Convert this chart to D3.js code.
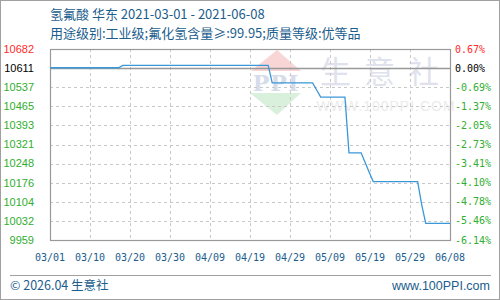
<!DOCTYPE html>
<html>
<head>
<meta charset="utf-8">
<script src="https://cdn.jsdelivr.net/npm/d3@7"></script>
<style>
  body { margin: 0; background: #fff; }
  svg { display: block; }
</style>
</head>
<body>
<svg id="chart" width="500" height="300"></svg>
<script>
// price series (yuan/ton)
var dates = ['2021-03-01', '2021-03-18', '2021-03-19', '2021-04-24', '2021-04-25',
             '2021-05-05', '2021-05-06', '2021-05-07', '2021-05-13', '2021-05-14',
             '2021-05-17', '2021-05-18', '2021-05-19', '2021-05-20', '2021-05-31',
             '2021-06-01', '2021-06-02', '2021-06-08'];
var prices = [10611, 10611, 10620, 10620, 10554,
              10554, 10527, 10500, 10500, 10289,
              10289, 10252, 10215, 10180, 10180,
              10092, 10022, 10022];
var baseValue = 10611;
var leftTicks = [10682, 10611, 10537, 10465, 10393, 10321, 10248, 10176, 10104, 10032, 9959];
var rightTicks = ['0.67%', '0.00%', '-0.69%', '-1.37%', '-2.05%', '-2.73%', '-3.41%', '-4.10%', '-4.78%', '-5.46%', '-6.14%'];
var xLabels = ['03/01', '03/10', '03/20', '03/30', '04/09', '04/19', '04/29', '05/09', '05/19', '05/29', '06/08'];

var titleText = '氢氟酸 华东 2021-03-01 - 2021-06-08';
var subText = '用途级别:工业级;氟化氢含量≥:99.95;质量等级:优等品';

var margin = { top: 49, left: 50, right: 50, bottom: 60 },
    width = 500 - margin.left - margin.right,
    height = 300 - margin.top - margin.bottom;

var blue = '#1b5d8d';
var parse = d3.timeParse('%Y-%m-%d');
var data = dates.map(function(d, i) { return { date: parse(d), value: prices[i] }; });

var svg = d3.select('#chart');

// outer frame
svg.append('rect')
  .attr('x', 0.5).attr('y', 0.5)
  .attr('width', 499).attr('height', 299)
  .attr('fill', 'none').attr('stroke', '#a0a0a0');

var x = d3.scaleTime()
  .domain([parse(dates[0]), parse(dates[dates.length - 1])])
  .range([0, width]);

var xPos = d3.scalePoint()
  .domain(xLabels)
  .range([0, width]);

var y = d3.scaleLinear()
  .domain([leftTicks[leftTicks.length - 1], leftTicks[0]])
  .range([height, 0]);

var yIdx = d3.scalePoint()
  .domain(d3.range(leftTicks.length))
  .range([0, height]);

// watermark
var wm = svg.append('g');
wm.append('path')
  .attr('d', 'M251,71 L277,50 L301,71 Z')
  .attr('fill', '#f9d6d6');
wm.append('path')
  .attr('d', 'M250,93 L301,93 L277,115 Z')
  .attr('fill', '#d9f0dc');
wm.append('text')
  .attr('x', 276).attr('y', 91)
  .attr('text-anchor', 'middle')
  .attr('font-family', 'DejaVu Serif, serif')
  .attr('font-size', 22).attr('font-weight', 'bold')
  .attr('letter-spacing', 1)
  .attr('fill', '#d6dcea')
  .text('PPI');
wm.append('text')
  .attr('x', 386).attr('y', 83)
  .attr('text-anchor', 'middle')
  .attr('font-family', 'Noto Sans CJK SC')
  .attr('font-size', 31)
  .attr('letter-spacing', 13)
  .attr('fill', '#dfe2ec')
  .text('生意社');
wm.append('text')
  .attr('x', 386).attr('y', 111)
  .attr('text-anchor', 'middle')
  .attr('font-family', 'Liberation Sans, Arial')
  .attr('font-size', 14)
  .attr('letter-spacing', 1)
  .attr('fill', '#ebebeb')
  .text('WWW.100PPI.COM');

var g = svg.append('g')
  .attr('transform', 'translate(' + margin.left + ',' + margin.top + ')');

// grid
g.selectAll('.hgrid')
  .data(leftTicks.slice(2, leftTicks.length - 1))
  .enter().append('line')
  .attr('x1', 0).attr('x2', width)
  .attr('y1', function(d, i) { return Math.round(yIdx(i + 2)) + 0.5; })
  .attr('y2', function(d, i) { return Math.round(yIdx(i + 2)) + 0.5; })
  .attr('stroke', '#c8c8c8')
  .attr('stroke-dasharray', '3,3');

g.selectAll('.vgrid')
  .data(xLabels.slice(1, xLabels.length - 1))
  .enter().append('line')
  .attr('x1', function(d) { return Math.round(xPos(d)) + 0.5; })
  .attr('x2', function(d) { return Math.round(xPos(d)) + 0.5; })
  .attr('y1', 0).attr('y2', height)
  .attr('stroke', '#c8c8c8')
  .attr('stroke-dasharray', '3,3');

// base line (0.00%)
g.append('line')
  .attr('x1', 0).attr('x2', width)
  .attr('y1', Math.round(yIdx(1)) + 0.5).attr('y2', Math.round(yIdx(1)) + 0.5)
  .attr('stroke', '#999').attr('stroke-width', 1.5);

// plot frame
g.append('rect')
  .attr('x', 0.5).attr('y', 0.5)
  .attr('width', width).attr('height', height)
  .attr('fill', 'none').attr('stroke', '#999').attr('stroke-width', 1.2);

// price line
var line = d3.line()
  .x(function(d) { return x(d.date); })
  .y(function(d) { return y(d.value); });

g.append('path')
  .datum(data)
  .attr('d', line)
  .attr('fill', 'none')
  .attr('stroke', '#3a97d8')
  .attr('stroke-width', 1.3);

// left axis labels
g.selectAll('.ly')
  .data(leftTicks)
  .enter().append('text')
  .attr('x', -16)
  .attr('y', function(d, i) { return yIdx(i); })
  .attr('dy', '0.35em')
  .attr('text-anchor', 'end')
  .attr('font-family', 'Liberation Sans, Arial, sans-serif')
  .attr('font-size', 11)
  .attr('fill', function(d, i) { return i === 0 ? '#ff2a2a' : (d === baseValue ? '#000' : '#2fae2f'); })
  .text(function(d) { return d; });

// right axis labels
g.selectAll('.ry')
  .data(rightTicks)
  .enter().append('text')
  .attr('x', width + 5)
  .attr('y', function(d, i) { return yIdx(i); })
  .attr('dy', '0.35em')
  .attr('font-family', 'DejaVu Sans Mono, monospace')
  .attr('font-size', 10)
  .attr('fill', function(d, i) { return i === 0 ? '#ff2a2a' : (i === 1 ? '#000' : '#2fae2f'); })
  .text(function(d) { return d; });

// x labels
g.selectAll('.xl')
  .data(xLabels)
  .enter().append('text')
  .attr('x', function(d) { return xPos(d); })
  .attr('y', height + 21)
  .attr('text-anchor', 'middle')
  .attr('font-family', 'DejaVu Sans Mono, monospace')
  .attr('font-size', 10)
  .attr('fill', blue)
  .text(function(d) { return d; });

// titles
svg.append('text')
  .attr('x', 50).attr('y', 19)
  .attr('font-family', 'Noto Sans CJK SC, sans-serif')
  .attr('font-size', 13)
  .attr('fill', blue)
  .text(titleText);

svg.append('text')
  .attr('x', 50).attr('y', 38)
  .attr('font-family', 'Noto Sans CJK SC, sans-serif')
  .attr('font-size', 13)
  .attr('fill', blue)
  .text(subText);

// footer
svg.append('line')
  .attr('x1', 10).attr('x2', 491)
  .attr('y1', 275.5).attr('y2', 275.5)
  .attr('stroke', '#a0a0a0');

svg.append('text')
  .attr('x', 10).attr('y', 290)
  .attr('font-family', 'Noto Sans CJK SC, sans-serif')
  .attr('font-size', 12.5)
  .attr('fill', blue)
  .text('© 2026.04 生意社');

svg.append('text')
  .attr('x', 490).attr('y', 290)
  .attr('text-anchor', 'end')
  .attr('font-family', 'Liberation Sans, Arial, sans-serif')
  .attr('font-size', 12.5)
  .attr('fill', blue)
  .text('www.100PPI.com');
</script>
</body>
</html>
